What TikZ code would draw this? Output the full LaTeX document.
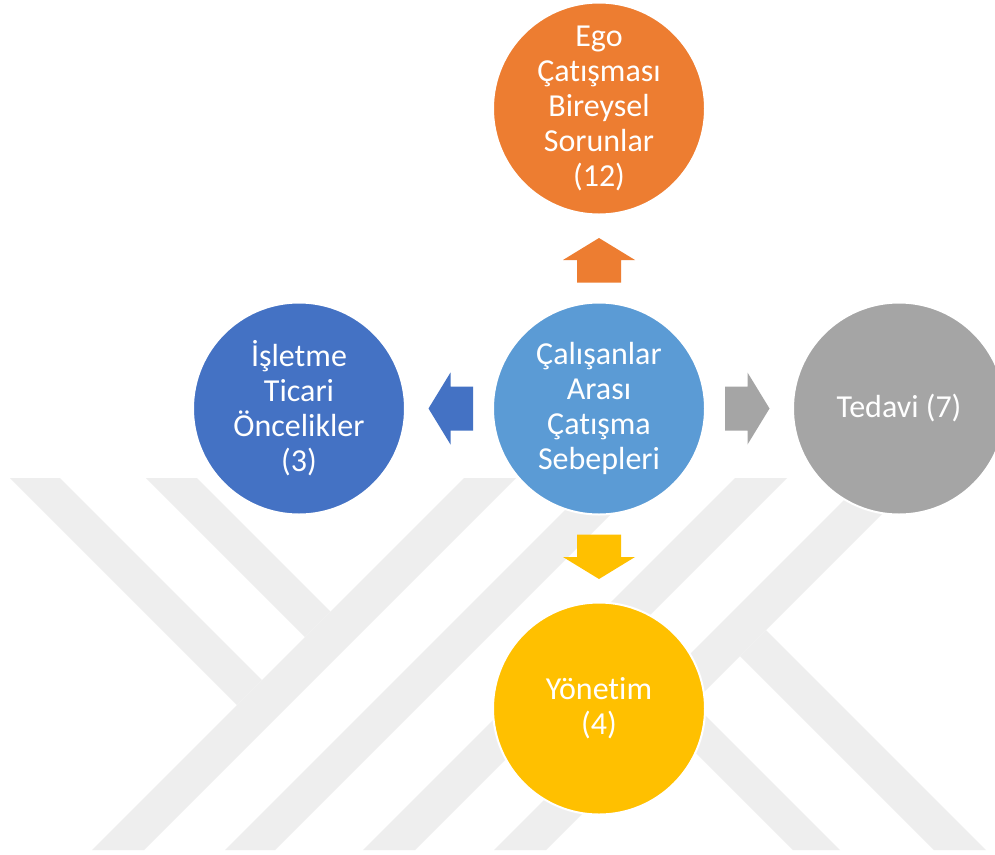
\documentclass[tikz,border=0pt]{standalone}
\usepackage{fontspec}
\setmainfont{Carlito}[Ligatures={NoCommon}]
\usetikzlibrary{calc}
\definecolor{cOrange}{HTML}{ED7D31}
\definecolor{cBlue}{HTML}{4472C4}
\definecolor{cLight}{HTML}{5B9BD5}
\definecolor{cGray}{HTML}{A5A5A5}
\definecolor{cGold}{HTML}{FFC000}
\definecolor{wmark}{HTML}{EEEEEE}
\begin{document}
\begin{tikzpicture}[x=0.75pt,y=-0.75pt,
  bubble/.style={circle, minimum size=159pt, inner sep=0pt, draw=white,
    line width=1.5pt, text=white, align=center,
    font=\fontsize{24pt}{26.25pt}\selectfont},
  band/.style={fill=wmark}]
  % canvas
  \clip (0,0) rectangle (995,854);
  \fill[white] (0,0) rectangle (995,854);

  % faint background emblem made of diagonal bands
  \fill[band] (464,478) -- (516,478) -- (144,850) -- (92,850) -- cycle;
  \fill[band] (597,478) -- (647,478) -- (275,850) -- (225,850) -- cycle;
  \fill[band] (735,478) -- (787,478) -- (415,850) -- (363,850) -- cycle;
  \fill[band] (866,478) -- (918,478) -- (546,850) -- (494,850) -- cycle;
  \fill[band] (10,478) -- (60,478) -- (262,680) -- (237,705) -- cycle;
  \fill[band] (146,478) -- (197,478) -- (330.5,611.5) -- (305,637) -- cycle;
  \fill[band] (766,630) -- (986,850) -- (934,850) -- (740,656) -- cycle;
  \fill[band] (693,703) -- (840,850) -- (793,850) -- (669.5,726.5) -- cycle;

  % circles
  \node[bubble, fill=cLight] (core) at (599,408.5) {Çalışanlar\\Arası\\Çatışma\\Sebepleri};
  \node[bubble, fill=cOrange] (ego) at (599,108.5) {Ego\\Çatışması\\Bireysel\\Sorunlar\\(12)};
  \node[bubble, fill=cBlue] (firm) at (299,408.5) {İşletme\\Ticari\\Öncelikler\\(3)};
  \node[bubble, fill=cGray] (care) at (899,408.5) {Tedavi (7)};
  \node[bubble, fill=cGold] (mgmt) at (599,708.5) {Yönetim\\(4)};

  % block arrows from the centre circle towards each outer circle
  \foreach \tgt/\ang/\col in {ego/90/cOrange, firm/180/cBlue, care/0/cGray, mgmt/270/cGold}
    \fill[\col, shift={($(core)!0.5!(\tgt)$)}, rotate=\ang]
      (-24,-22) -- (-1.5,-22) -- (-1.5,-36) -- (20.5,0) -- (-1.5,36)
      -- (-1.5,22) -- (-24,22) -- cycle;
\end{tikzpicture}
\end{document}
